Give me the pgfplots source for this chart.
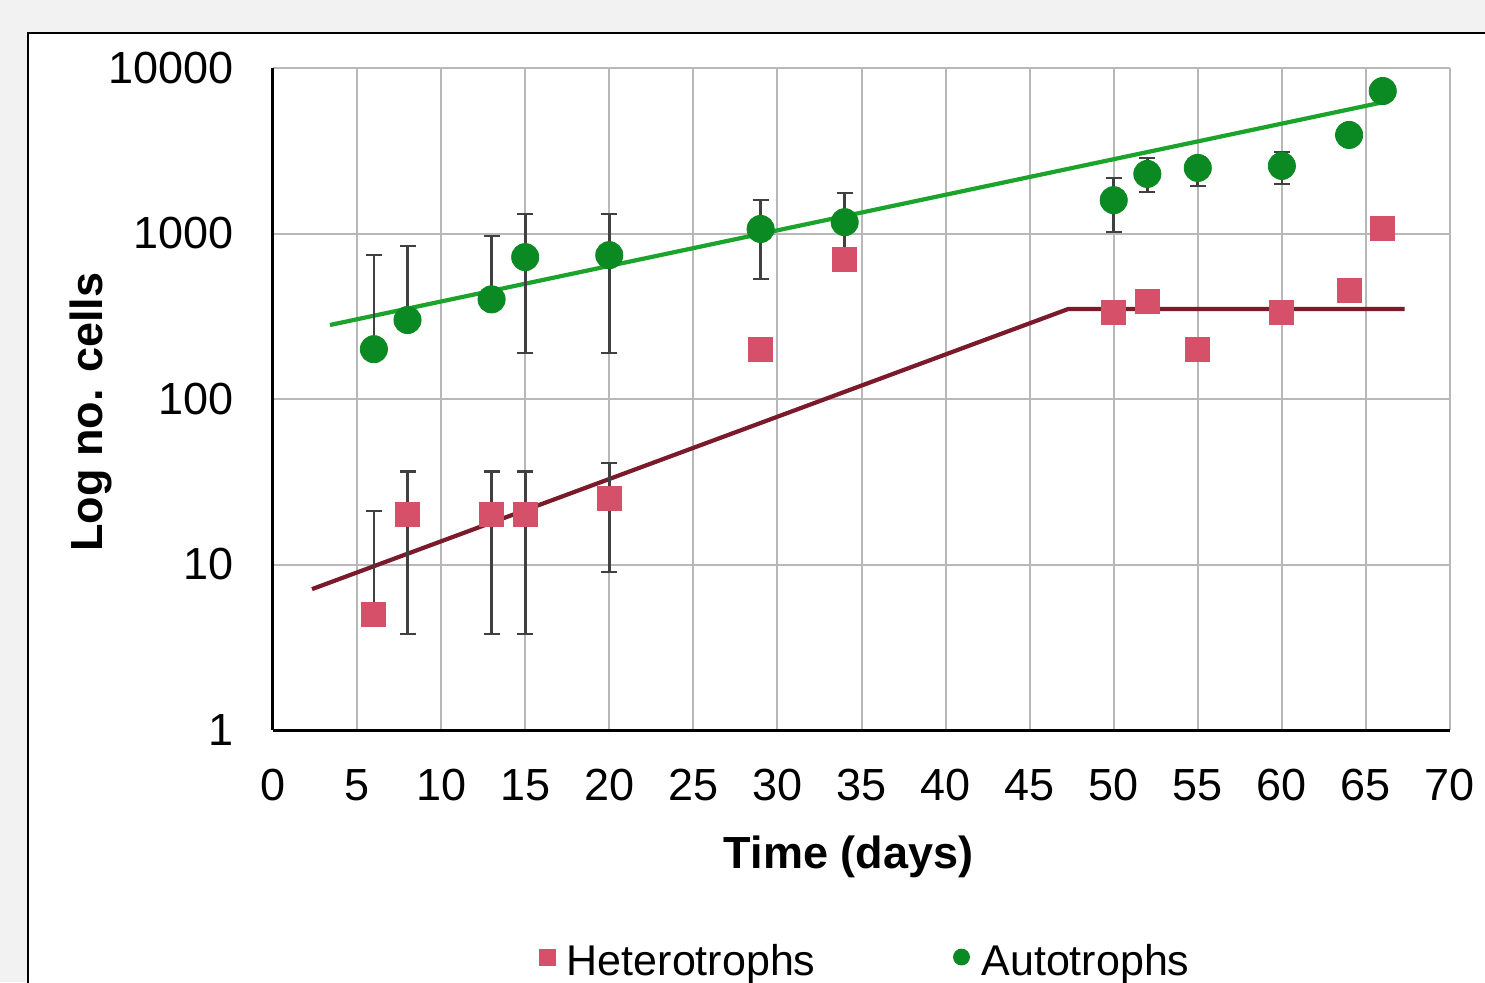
\documentclass[border=0pt]{standalone}
\usepackage{pgfplots}
\usepackage{pgfplotstable}
\pgfplotsset{compat=1.18}
\usepackage{fontspec}
\setmainfont{Liberation Sans}
\definecolor{autog}{HTML}{0B8A23}
\definecolor{autoline}{HTML}{1CA32C}
\definecolor{hetr}{HTML}{D6506A}
\definecolor{hetline}{HTML}{7A1A2A}
\definecolor{errc}{HTML}{404040}
\definecolor{bgc}{HTML}{F2F2F2}
\definecolor{gridc}{HTML}{B8B8B8}

\pgfplotstableread{
x y
6 5
8 20
13 20
15 20
20 25
29 200
34 700
50 335
52 390
55 200
60 335
64 450
66 1080
}\hetdata

\pgfplotstableread{
x y ep em
6 5 16 0
8 20 16.5 16.2
13 20 16.5 16.2
15 20 16.5 16.2
20 25 16 16
}\heterr

\pgfplotstableread{
x y
6 200
8 300
13 400
15 720
20 740
29 1065
34 1170
50 1590
52 2290
55 2490
60 2560
64 3940
66 7260
}\autdata

\pgfplotstableread{
x y ep em
6 200 540 0
8 300 540 0
13 400 565 0
15 720 590 530
20 740 570 550
29 1065 530 535
34 1170 590 470
50 1590 575 570
52 2290 570 510
55 2490 400 555
60 2560 545 570
}\auterr

\begin{document}
\begin{tikzpicture}
\useasboundingbox (0,0) rectangle (742.5pt,491pt);
\clip (0,0) rectangle (742.5pt,491pt);
\fill[bgc] (0,0) rectangle (742.5pt,491pt);
\draw[black, line width=0.6pt, fill=white] (14pt,-20pt) rectangle (770pt,474.5pt);
\begin{axis}[
  at={(136.5pt,126pt)}, anchor=south west,
  scale only axis, width=588.5pt, height=331pt,
  xmin=0, xmax=70, ymode=log, ymin=1, ymax=10000,
  xtick={0,5,...,70},
  xticklabels={0,5,10,15,20,25,30,35,40,45,50,55,60,65,70},
  ytick={1,10,100,1000,10000},
  yticklabels={1,10,100,1000,10000},
  /pgf/number format/assume math mode=true,
  axis x line*=bottom, axis y line*=left,
  axis line style={-, black, line width=1.5pt},
  major tick length=0pt, minor tick length=0pt, minor tick num=0,
  yminorticks=false, yminorgrids=false,
  grid=major, grid style={gridc, line width=1pt},
  xticklabel style={font=\fontsize{22.5}{27}\selectfont, yshift=-16pt},
  yticklabel style={font=\fontsize{22.5}{27}\selectfont, xshift=-16pt},
  xlabel={Time (days)}, ylabel={Log no. cells},
  xlabel style={font=\fontsize{22.5}{27}\selectfont\bfseries, at={(axis description cs:0.489,-0.192)}, anchor=center},
  ylabel style={font=\fontsize{22.5}{27}\selectfont\bfseries, at={(axis description cs:-0.155,0.48)}, anchor=center},
  legend style={at={(axis description cs:0.504,-0.349)}, anchor=center, draw=none, fill=none,
    legend columns=2, font=\fontsize{21.5}{26}\selectfont,
    /tikz/every odd column/.append style={column sep=4pt},
    /tikz/every even column/.append style={column sep=67pt}},
  legend image code/.code={\draw[#1, /tikz/mark size=4pt] plot coordinates {(0pt,2pt)};},
]
\addplot[autoline, line width=2.1pt, forget plot] coordinates {(3.39,280) (66.09,6235)};
\addplot[hetline, line width=2.1pt, forget plot] coordinates {(2.32,7.1) (47.3,350) (67.3,350)};

\addplot[draw=none, forget plot,
  error bars/.cd, y dir=both, y explicit,
  error bar style={draw=errc, line width=1.3pt},
  error mark options={draw=errc, rotate=90, mark size=4pt, line width=1.3pt}]
  table[x=x, y=y, y error plus=ep, y error minus=em] {\heterr};
\addplot[draw=none, forget plot,
  error bars/.cd, y dir=both, y explicit,
  error bar style={draw=errc, line width=1.3pt},
  error mark options={draw=errc, rotate=90, mark size=4pt, line width=1.3pt}]
  table[x=x, y=y, y error plus=ep, y error minus=em] {\auterr};

\addplot[only marks, mark=square*, mark size=6pt, color=hetr, mark options={draw=hetr, fill=hetr}]
  table[x=x, y=y] {\hetdata};
\addlegendentry{Heterotrophs}
\addplot[only marks, mark=*, mark size=6.8pt, color=autog, mark options={draw=autog, fill=autog}]
  table[x=x, y=y] {\autdata};
\addlegendentry{Autotrophs}
\end{axis}
\end{tikzpicture}
\end{document}
